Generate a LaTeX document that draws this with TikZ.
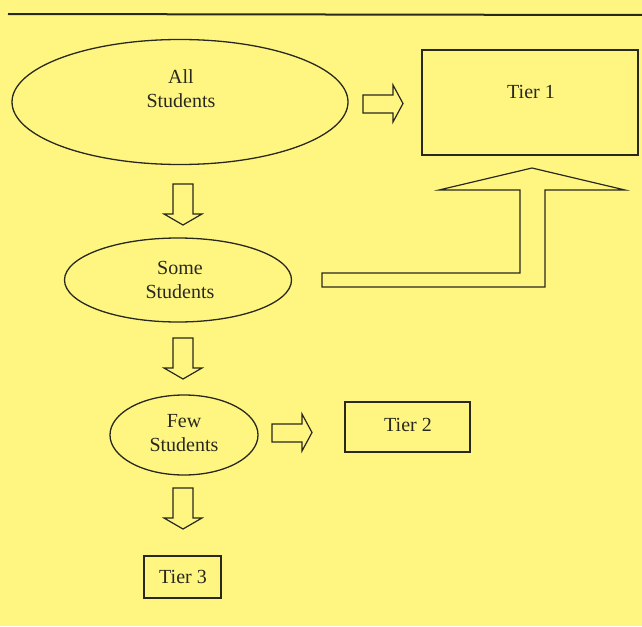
\documentclass[tikz,border=0pt]{standalone}
\usepackage{fontspec}
\setmainfont{Liberation Serif}
\usetikzlibrary{shapes.geometric}
\definecolor{bg}{RGB}{255,246,130}
\definecolor{ink}{RGB}{40,40,30}
\tikzset{
  shp/.style={draw=ink, line width=1.3pt, inner sep=0pt},
  ell/.style={shp, ellipse},
  box/.style={shp, rectangle},
  lbl/.style={font=\fontsize{20}{24}\selectfont, align=center, text=ink},
  barrow/.style={draw=ink, line width=1.2pt, line join=miter}
}
\begin{document}
\begin{tikzpicture}[x=1pt,y=-1pt]
\useasboundingbox[fill=bg] (0,0) rectangle (642,626);
\draw[line width=2pt, draw=ink] (8,14) -- (642,15);
% shapes
\node[ell, minimum width=336pt, minimum height=125pt] (all) at (180,102) {};
\node[lbl] (allt) at (181,88.5) {All\\Students};
\node[box, minimum width=216pt, minimum height=105pt] (t1) at (530,102.5) {};
\node[lbl] (t1t) at (531,92) {Tier 1};
\node[ell, minimum width=227pt, minimum height=84pt] (some) at (178,280) {};
\node[lbl] (somet) at (180,280) {Some\\Students};
\node[ell, minimum width=148pt, minimum height=80pt] (few) at (184,435) {};
\node[lbl] (fewt) at (184,433.5) {Few\\Students};
\node[box, minimum width=125pt, minimum height=50pt] (t2) at (407.5,427) {};
\node[lbl] (t2t) at (408,425) {Tier 2};
\node[box, minimum width=77pt, minimum height=42pt] (t3) at (182.5,577) {};
\node[lbl] (t3t) at (183,577) {Tier 3};
% right block arrows
\draw[barrow] (363,95) -- (393,95) -- (393,85) -- (403,103.5) -- (393,122) -- (393,113) -- (363,113) -- cycle;
\draw[barrow] (272,424) -- (302,424) -- (302,414) -- (312,432.5) -- (302,451) -- (302,442) -- (272,442) -- cycle;
% down block arrows
\foreach \y in {184,338,488}{
  \draw[barrow] (173,\y) -- (193,\y) -- (193,\y+30) -- (202,\y+30) -- (183,\y+41) -- (164,\y+30) -- (173,\y+30) -- cycle;
}
% bent arrow
\draw[barrow] (322,273) -- (520,273) -- (520,190) -- (439,190) -- (532,168) -- (625,190) -- (545,190) -- (545,287) -- (322,287) -- cycle;
\end{tikzpicture}
\end{document}
